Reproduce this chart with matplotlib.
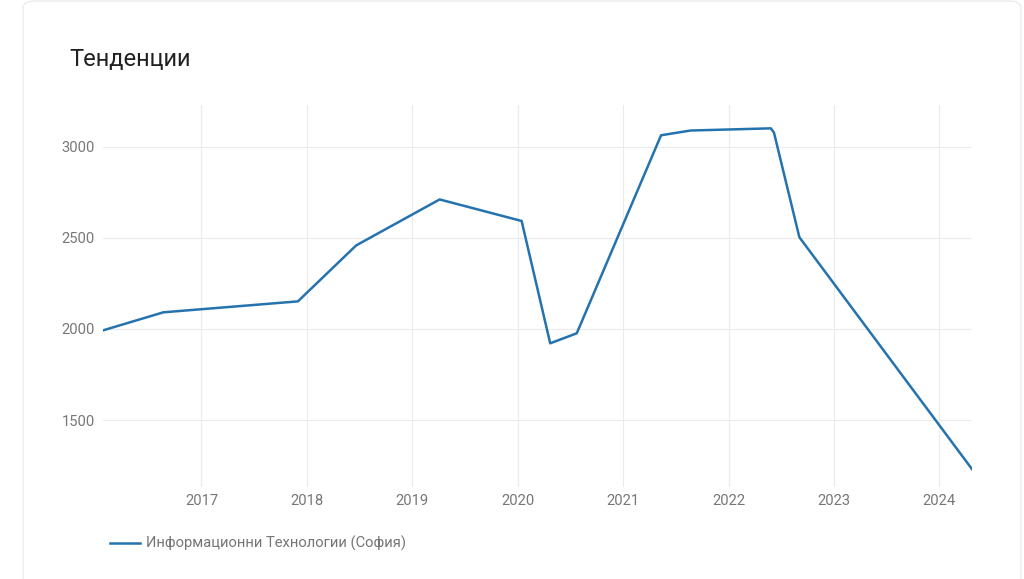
import matplotlib
matplotlib.use("Agg")
import matplotlib.pyplot as plt
import matplotlib.dates as mdates
from matplotlib.patches import FancyBboxPatch
from matplotlib.lines import Line2D
import pandas as pd

plt.rcParams['font.family'] = ['Roboto', 'DejaVu Sans']

title = "Тенденции"
series_name = "Информационни Технологии (София)"
dates = ["2016-01-26", "2016-08-22", "2017-12-01", "2018-06-21", "2019-04-06",
         "2020-01-15", "2020-04-23", "2020-07-24", "2021-05-12", "2021-08-22",
         "2022-05-27", "2022-06-07", "2022-09-03", "2024-04-23"]
values = [1992, 2091, 2151, 2458, 2710, 2592, 1921, 1976, 3062, 3088,
          3100, 3077, 2503, 1231]
y_ticks = [1500, 2000, 2500, 3000]

x = pd.to_datetime(dates)

fig = plt.figure(figsize=(10.24, 5.79), dpi=100)
fig.patch.set_facecolor('white')

card = FancyBboxPatch((23/1024, -0.05), (1021-23)/1024, 1.05 - 1/579,
                      boxstyle="round,pad=0,rounding_size=0.012",
                      transform=fig.transFigure, facecolor='white',
                      edgecolor='#ececec', linewidth=1.0, zorder=-5)
fig.patches.append(card)

fig.text(69/1024, 1 - 59/579, title, fontsize=17, color='#212121',
         ha='left', va='center')

ax = fig.add_axes([103/1024, 1 - 487/579, (972-103)/1024, (487-105)/579])
ax.set_zorder(2)
ax.set_facecolor('none')
line_color = '#2573ae'
ax.plot(x, values, color=line_color, linewidth=1.8, solid_joinstyle='round')

ax.set_xlim(x[0], x[-1])
ax.set_ylim(1133, 3228)
ax.set_yticks(y_ticks)
ax.xaxis.set_major_locator(mdates.YearLocator())
ax.xaxis.set_major_formatter(mdates.DateFormatter('%Y'))

for s in ax.spines.values():
    s.set_visible(False)
ax.grid(True, color='#ebebeb', linewidth=0.8)
ax.set_axisbelow(True)
ax.tick_params(axis='both', length=0, labelsize=10.6, labelcolor='#777777')
ax.tick_params(axis='x', pad=5)
ax.tick_params(axis='y', pad=6)

# legend
fig.add_artist(Line2D([110/1024, 140/1024], [1 - 543/579, 1 - 543/579],
                      color=line_color, linewidth=1.8, transform=fig.transFigure))
fig.text(146/1024, 1 - 543/579, series_name, fontsize=10.6, color='#757575',
         ha='left', va='center')

fig.savefig("out.png", dpi=100)
